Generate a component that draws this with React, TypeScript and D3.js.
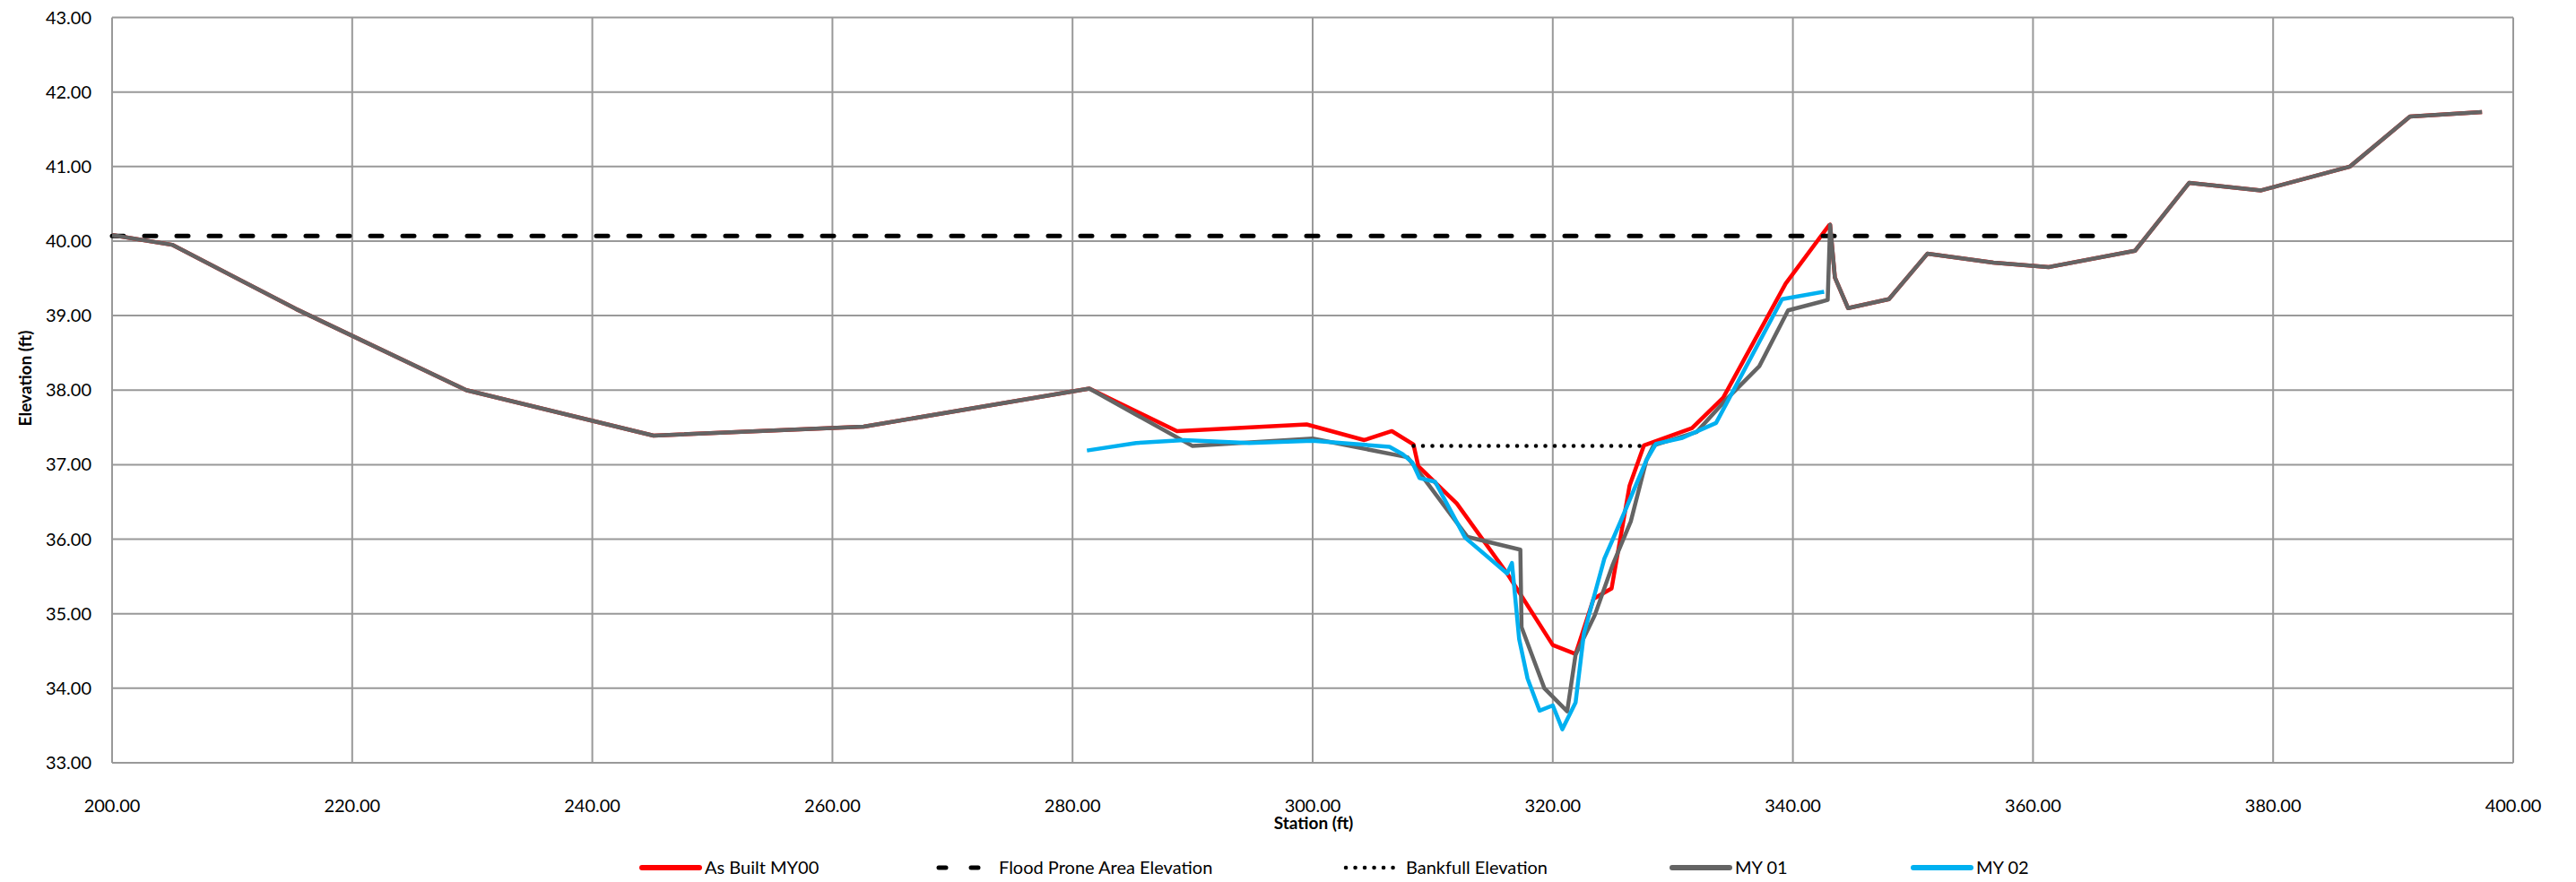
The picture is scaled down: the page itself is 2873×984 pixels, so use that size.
import React, { useRef, useEffect } from 'react';
import * as d3 from 'd3';

// station (ft), elevation (ft)
const leftFloodplain: [number, number][] = [
  [200.0, 40.08], [205.0, 39.95], [215.3, 39.09], [229.5, 38.0],
  [245.1, 37.39], [262.6, 37.51], [281.4, 38.02],
];

const rightFloodplain: [number, number][] = [
  [343.1, 40.22], [343.5, 39.51], [344.6, 39.1], [348.0, 39.22],
  [351.2, 39.83], [356.7, 39.71], [361.3, 39.65], [368.5, 39.87],
  [373.0, 40.78], [379.0, 40.68], [386.4, 41.0], [391.4, 41.67], [397.4, 41.73],
];

const asBuiltChannel: [number, number][] = [
  [288.7, 37.45], [299.5, 37.54], [304.3, 37.33], [306.6, 37.45],
  [308.4, 37.27], [308.8, 36.98], [312.0, 36.48], [316.2, 35.54],
  [320.0, 34.58], [321.9, 34.46], [323.4, 35.2], [324.9, 35.34],
  [326.4, 36.72], [327.6, 37.26], [331.6, 37.49], [334.2, 37.9],
  [339.4, 39.43], [343.0, 40.21],
];

const my01Channel: [number, number][] = [
  [290.0, 37.25], [300.0, 37.35], [307.9, 37.1], [309.2, 36.83],
  [312.9, 36.03], [317.3, 35.86], [317.4, 34.82], [319.3, 34.0],
  [321.2, 33.69], [321.9, 34.45], [323.5, 34.98], [325.0, 35.66],
  [326.5, 36.24], [327.8, 37.06], [328.4, 37.26], [332.0, 37.44],
  [334.6, 37.9], [337.2, 38.32], [339.6, 39.07], [342.9, 39.21],
];

const my02: [number, number][] = [
  [281.2, 37.19], [285.3, 37.29], [289.3, 37.33], [294.7, 37.29],
  [300.0, 37.32], [306.4, 37.24], [307.5, 37.14], [308.3, 37.03],
  [308.9, 36.82], [310.2, 36.77], [312.7, 36.02], [316.2, 35.54],
  [316.6, 35.68], [317.2, 34.66], [317.9, 34.13], [318.9, 33.7],
  [320.0, 33.77], [320.8, 33.45], [321.9, 33.81], [322.6, 34.74],
  [324.3, 35.74], [325.6, 36.22], [327.8, 37.06], [328.6, 37.28],
  [330.8, 37.36], [333.6, 37.56], [339.1, 39.22], [342.6, 39.32],
];

const floodProne: [number, number][] = [[200.0, 40.07], [369.1, 40.07]];
const bankfull: [number, number][] = [[308.4, 37.25], [327.6, 37.25]];

const xTicks = [200, 220, 240, 260, 280, 300, 320, 340, 360, 380, 400];
const yTicks = [33, 34, 35, 36, 37, 38, 39, 40, 41, 42, 43];

const asBuilt = [...leftFloodplain, ...asBuiltChannel, ...rightFloodplain];
const my01 = [...leftFloodplain, ...my01Channel, ...rightFloodplain];

function App() {
  const svgRef = useRef<SVGSVGElement>(null);

  useEffect(() => {
    const w = 2873;
    const h = 984;
    const left = 125, right = 2803, top = 19.5, bottom = 851;

    const svg = d3.select(svgRef.current)
      .attr('width', w)
      .attr('height', h)
      .style('font-family', 'Lato, "Open Sans", sans-serif');
    svg.selectAll('*').remove();

    const x = d3.scaleLinear().domain([200, 400]).range([left, right]);
    const y = d3.scaleLinear().domain([33, 43]).range([bottom, top]);
    const fmt = d3.format('.2f');

    // grid
    const grid = svg.append('g').attr('stroke', '#999').attr('stroke-width', 2);
    grid.selectAll('.vg').data(xTicks).join('line')
      .attr('x1', d => x(d)).attr('x2', d => x(d))
      .attr('y1', top).attr('y2', bottom);
    grid.selectAll('.hg').data(yTicks).join('line')
      .attr('x1', left).attr('x2', right)
      .attr('y1', d => y(d)).attr('y2', d => y(d));

    // tick labels
    svg.append('g').selectAll('text').data(xTicks).join('text')
      .attr('x', d => x(d)).attr('y', 906)
      .attr('text-anchor', 'middle')
      .attr('font-size', 20)
      .text(d => fmt(d));
    svg.append('g').selectAll('text').data(yTicks).join('text')
      .attr('x', 102).attr('y', d => y(d))
      .attr('dy', '0.35em')
      .attr('text-anchor', 'end')
      .attr('font-size', 20)
      .text(d => fmt(d));

    // axis titles
    svg.append('text')
      .attr('x', 1465).attr('y', 925)
      .attr('text-anchor', 'middle')
      .attr('font-size', 19).attr('font-weight', 'bold')
      .text('Station (ft)');
    svg.append('text')
      .attr('transform', 'translate(35, 422) rotate(-90)')
      .attr('text-anchor', 'middle')
      .attr('font-size', 19).attr('font-weight', 'bold')
      .text('Elevation (ft)');

    const line = d3.line<[number, number]>()
      .x(d => x(d[0]))
      .y(d => y(d[1]));

    const series = [
      { name: 'As Built MY00', data: asBuilt, color: '#FF0000', width: 4.5, dash: null, cap: 'butt' },
      { name: 'Flood Prone Area Elevation', data: floodProne, color: '#000000', width: 5, dash: '13,23', cap: 'round' },
      { name: 'Bankfull Elevation', data: bankfull, color: '#000000', width: 4.5, dash: '0.1,10.4', cap: 'round' },
      { name: 'MY 01', data: my01, color: '#646464', width: 4.5, dash: null, cap: 'butt' },
      { name: 'MY 02', data: my02, color: '#00B0F0', width: 4.5, dash: null, cap: 'butt' },
    ];

    svg.append('g').selectAll('path').data(series).join('path')
      .attr('d', d => line(d.data))
      .attr('fill', 'none')
      .attr('stroke', d => d.color)
      .attr('stroke-width', d => d.width)
      .attr('stroke-linejoin', 'round')
      .attr('stroke-linecap', d => d.cap)
      .attr('stroke-dasharray', d => d.dash);

    // legend
    const legendX = [716, 1044, 1498, 1865, 2134];
    const legendY = 968;
    const lg = svg.append('g').selectAll('g').data(series).join('g')
      .attr('transform', (d, i) => `translate(${legendX[i]}, ${legendY})`);
    lg.append('line')
      .attr('x1', d => (d.cap === 'round' ? 3 : 0))
      .attr('x2', d => (d.cap === 'round' ? 57 : 64))
      .attr('stroke', d => d.color)
      .attr('stroke-width', d => (d.dash ? d.width : 6))
      .attr('stroke-linecap', 'round')
      .attr('stroke-dasharray', d => (d.dash === '13,23' ? '8,28' : d.dash));
    lg.append('text')
      .attr('x', 70).attr('dy', '0.35em')
      .attr('font-size', 20)
      .text(d => d.name);
  }, []);

  return (
    <svg ref={svgRef} style={{ position: 'absolute', left: 0, top: 0, display: 'block' }}></svg>
  );
}

export default App;
